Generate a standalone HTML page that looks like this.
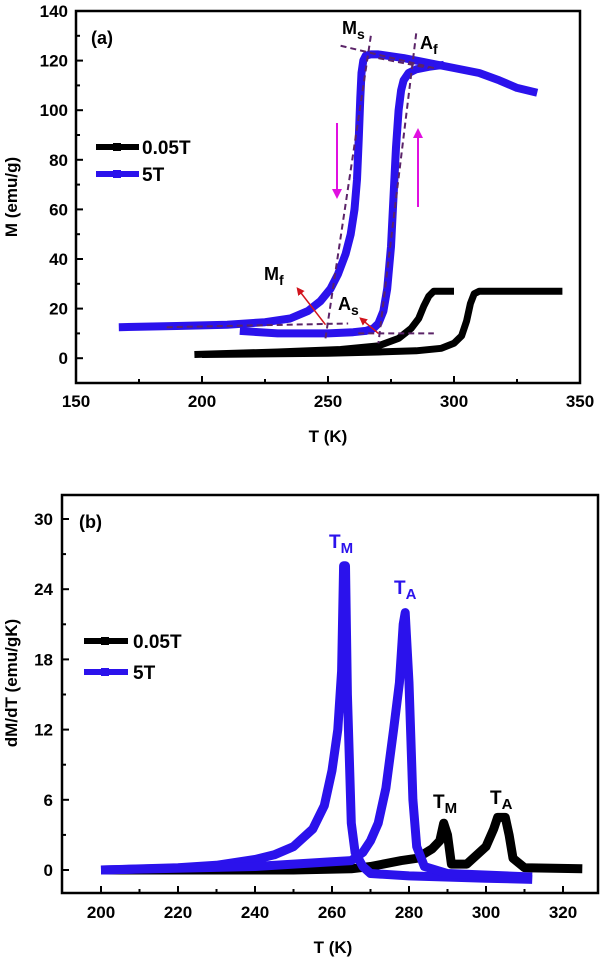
<!DOCTYPE html>
<html><head><meta charset="utf-8"><style>
html,body{margin:0;padding:0;background:#fff;}
svg{display:block;font-family:"Liberation Sans",sans-serif;font-weight:bold;}
</style></head><body>
<svg id="fig" width="600" height="960" viewBox="0 0 600 960" xmlns="http://www.w3.org/2000/svg">
<g id="pa"></g>
<g id="pb"></g>
</svg>
<script>
// ---- Panel (a) data ----
const aCoolT = [333,325,318,310,300,290,280,270,267,265,264,263.3,262.8,262.2,261.5,260.5,259,257,254,251,247,242,235,225,210,190,167];
const aCoolM = [107,109,112,115,117,119,121,122.5,122.5,122,120,115,105,88,72,60,50,42,34,28,23,19,16,14.5,13.5,13,12.5];
const aHeatT = [215,230,250,260,265,268,270,272,273.5,275,276,277,278,279,280,282,285,290,296];
const aHeatM = [11,10,10,10.5,11,12,14,19,28,45,65,85,100,108,112,115,116.5,117.5,118.3];
const bLowCoolT = [343,310,308,306.5,305,303,300,295,285,270,250,200];
const bLowCoolM = [27,27,26,22,15,9,6,4,3,2.5,2,1.5];
const bLowHeatT = [197,230,255,270,278,283,286,288,290,292,295,300];
const bLowHeatM = [1.5,2.5,3.5,5,8,12,16,21,25,27,27,27];
// ---- Panel (b) data ----
const bM5T = [200,220,230,240,245,250,255,258,260,261.5,262.5,263,263.5,264,265,266,268,270,280,300,312];
const bM5V = [0,0.2,0.4,0.9,1.3,2,3.5,5.5,8.5,12,17,26,26,15,4,1.5,0.3,-0.3,-0.5,-0.7,-0.8];
const bA5T = [200,240,260,265,268,270,272,274,276,277.5,278.5,279,280,281,282,284,290,312];
const bA5V = [0,0.3,0.7,0.8,1.5,2.5,4,7,12,16,21,22,16,6,2,0.3,-0.3,-0.6];
const bLT = [200,250,265,270,278,282,286,288,289,290,291,295,300,302,303,305,306,307,310,325];
const bLV = [0,0,0.1,0.3,0.8,1,1.8,2.5,4,3,0.5,0.5,2,3.5,4.5,4.5,3,1,0.2,0.1];
const aXTicks = [150,200,250,300,350];
const aYTicks = [0,20,40,60,80,100,120,140];
const bXTicks = [200,220,240,260,280,300,320];
const bYTicks = [0,6,12,18,24,30];

const NS="http://www.w3.org/2000/svg";
const BLUE="#2b12ec";
function mk(parent,tag,attrs,text){const e=document.createElementNS(NS,tag);for(const k in attrs)e.setAttribute(k,attrs[k]);if(text!==undefined)e.textContent=text;parent.appendChild(e);return e;}

const ax=t=>76+(t-150)*(504/200);
const ay=m=>383-(m+10)*(372/150);
const bx=t=>101+(t-200)*(462/120);
const by=v=>870-v*(351/30);

function path(xs,ys,fx,fy){return xs.map((t,i)=>(i?'L':'M')+fx(t).toFixed(1)+','+fy(ys[i]).toFixed(1)).join(' ');}

// ===== Panel A =====
const pa=document.getElementById('pa');
let e;
e=mk(pa,'rect',{x:76,y:11,width:504,height:372,fill:'none',stroke:'#000','stroke-width':2.5});


aXTicks.forEach((t,i)=>{
  e=mk(pa,'line',{x1:ax(t),x2:ax(t),y1:383,y2:376,stroke:'#000','stroke-width':2});
  
  
  if(i<aXTicks.length-1){e=mk(pa,'line',{x1:ax(t+25),x2:ax(t+25),y1:383,y2:379,stroke:'#000','stroke-width':2});
  
  }
  e=mk(pa,'text',{x:ax(t),y:407,'font-size':17,'text-anchor':'middle'},String(t));
  
  
});
aYTicks.forEach((m,i)=>{
  e=mk(pa,'line',{x1:76,x2:83,y1:ay(m),y2:ay(m),stroke:'#000','stroke-width':2});
  
  
  e=mk(pa,'line',{x1:76,x2:80,y1:ay(m-10),y2:ay(m-10),stroke:'#000','stroke-width':2});
  
  
  e=mk(pa,'text',{x:68,y:ay(m)+6,'font-size':17,'text-anchor':'end'},String(m));
  
  
});
e=mk(pa,'text',{x:328,y:442,'font-size':17,'text-anchor':'middle'},'T (K)');


e=mk(pa,'text',{x:0,y:0,'font-size':17,'text-anchor':'middle',transform:'translate(17,197) rotate(-90)'},'M (emu/g)');


e=mk(pa,'text',{x:91,y:44,'font-size':18},'(a)');



[[bLowCoolT,bLowCoolM,'#000','series-0.05T-cooling'],[bLowHeatT,bLowHeatM,'#000','series-0.05T-heating'],[aCoolT,aCoolM,BLUE,'series-5T-cooling'],[aHeatT,aHeatM,BLUE,'series-5T-heating']].forEach(s=>{
  e=mk(pa,'path',{d:path(s[0],s[1],ax,ay),fill:'none',stroke:s[2],'stroke-width':s[2]==='#000'?7:8,'stroke-linejoin':'round','stroke-linecap':'butt'});
  
  
});
const dash=[[255,126,292,117],[267,130,249,8],[186,12.5,258,14],[285,131,270,6],[262,10,292,10],[270,121,290,117]];
dash.forEach(d=>{
  e=mk(pa,'line',{x1:ax(d[0]),y1:ay(d[1]),x2:ax(d[2]),y2:ay(d[3]),stroke:'#5b2468','stroke-width':2,'stroke-dasharray':'6,4'});
  
  
});
const defs=mk(pa,'defs',{});
const mr=mk(defs,'marker',{id:'ar',markerWidth:8,markerHeight:8,refX:6,refY:4,orient:'auto',markerUnits:'userSpaceOnUse'});
mk(mr,'path',{d:'M0,0 L8,4 L0,8 Z',fill:'#d2141c'});
const mm=mk(defs,'marker',{id:'am',markerWidth:10,markerHeight:10,refX:8,refY:5,orient:'auto',markerUnits:'userSpaceOnUse'});
mk(mm,'path',{d:'M0,0 L10,5 L0,10 Z',fill:'#e010e0'});
e=mk(pa,'line',{x1:ax(249),y1:ay(13.5),x2:ax(238),y2:ay(28),stroke:'#d2141c','stroke-width':1.5,'marker-end':'url(#ar)'});


e=mk(pa,'line',{x1:ax(270),y1:ay(10),x2:ax(263),y2:ay(16),stroke:'#d2141c','stroke-width':1.5,'marker-end':'url(#ar)'});


e=mk(pa,'line',{x1:337,y1:123,x2:337,y2:197,stroke:'#e010e0','stroke-width':2,'marker-end':'url(#am)'});


e=mk(pa,'line',{x1:418,y1:207,x2:418,y2:130,stroke:'#e010e0','stroke-width':2,'marker-end':'url(#am)'});


[['M','s',342,34,'ms-label'],['A','f',420,49,'af-label'],['M','f',264,280,'mf-label'],['A','s',338,310,'as-label']].forEach(l=>{
  e=mk(pa,'text',{x:l[2],y:l[3],'font-size':18});
  
  
  mk(e,'tspan',{},l[0]);mk(e,'tspan',{'font-size':14,dy:5},l[1]);
});
[[147,'#000','0.05T','legend-entry-0.05T'],[174,BLUE,'5T','legend-entry-5T']].forEach(l=>{
  const g=mk(pa,'g',{});
  
  
  mk(g,'line',{x1:96,x2:139,y1:l[0],y2:l[0],stroke:l[1],'stroke-width':6});
  mk(g,'rect',{x:113,y:l[0]-4,width:8,height:8,fill:l[1]});
  mk(g,'text',{x:142,y:l[0]+7,'font-size':19},l[2]);
});

// ===== Panel B =====
const pb=document.getElementById('pb');
e=mk(pb,'rect',{x:62,y:495,width:536,height:398,fill:'none',stroke:'#000','stroke-width':2.5});


bXTicks.forEach(t=>{
  e=mk(pb,'line',{x1:bx(t),x2:bx(t),y1:893,y2:886,stroke:'#000','stroke-width':2});
  
  
  e=mk(pb,'line',{x1:bx(t+10),x2:bx(t+10),y1:893,y2:889,stroke:'#000','stroke-width':2});
  
  
  e=mk(pb,'text',{x:bx(t),y:918,'font-size':17,'text-anchor':'middle'},String(t));
  
  
});
bYTicks.forEach(v=>{
  e=mk(pb,'line',{x1:62,x2:69,y1:by(v),y2:by(v),stroke:'#000','stroke-width':2});
  
  
  if(v<30){e=mk(pb,'line',{x1:62,x2:66,y1:by(v+3),y2:by(v+3),stroke:'#000','stroke-width':2});
  
  }
  e=mk(pb,'text',{x:53,y:by(v)+6,'font-size':17,'text-anchor':'end'},String(v));
  
  
});
e=mk(pb,'text',{x:333,y:953,'font-size':17,'text-anchor':'middle'},'T (K)');


e=mk(pb,'text',{x:0,y:0,'font-size':17,'text-anchor':'middle',transform:'translate(17,683) rotate(-90)'},'dM/dT (emu/gK)');


e=mk(pb,'text',{x:79,y:528,'font-size':18},'(b)');


[[bLT,bLV,'#000','series-0.05T-dmdt'],[bM5T,bM5V,BLUE,'series-5T-cooling-dmdt'],[bA5T,bA5V,BLUE,'series-5T-heating-dmdt']].forEach(s=>{
  e=mk(pb,'path',{d:path(s[0],s[1],bx,by),fill:'none',stroke:s[2],'stroke-width':9,'stroke-linejoin':'round'});
  
  
});
[['T','M',329,548,BLUE,'tm-label-5T'],['T','A',394,594,BLUE,'ta-label-5T'],['T','M',433,808,'#000','tm-label-0.05T'],['T','A',490,804,'#000','ta-label-0.05T']].forEach(l=>{
  e=mk(pb,'text',{x:l[2],y:l[3],'font-size':19,fill:l[4]});
  
  
  mk(e,'tspan',{},l[0]);mk(e,'tspan',{'font-size':15,dy:5},l[1]);
});
[[641,'#000','0.05T','legend-entry-b-0.05T'],[672,BLUE,'5T','legend-entry-b-5T']].forEach(l=>{
  const g=mk(pb,'g',{});
  
  
  mk(g,'line',{x1:84,x2:128,y1:l[0],y2:l[0],stroke:l[1],'stroke-width':6});
  mk(g,'rect',{x:101,y:l[0]-4,width:8,height:8,fill:l[1]});
  mk(g,'text',{x:133,y:l[0]+7,'font-size':19},l[2]);
});
</script>
</body></html>
